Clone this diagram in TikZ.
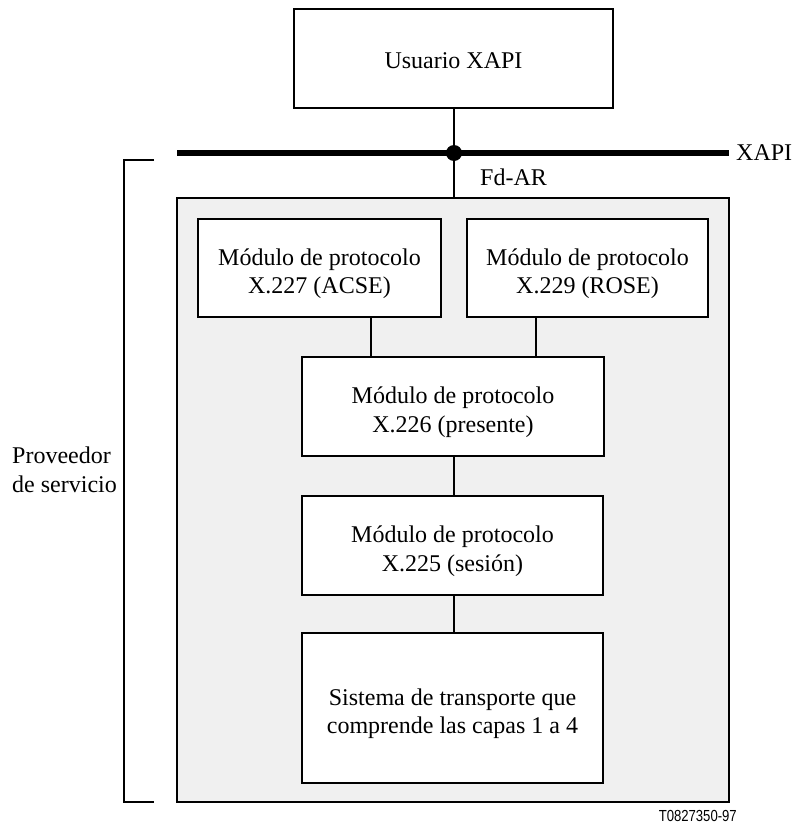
\documentclass[tikz,border=0pt]{standalone}
\usepackage{fontspec}
\setmainfont{Liberation Serif}
\newfontfamily\labelsans{Liberation Sans}
% centred lines of a box, set a little below the box centre
\newcommand\boxtext[2][12pt]{\raisebox{-#1}[0pt][0pt]{\begin{tabular}{@{}c@{}}#2\end{tabular}}}
\begin{document}
\begin{tikzpicture}[x=1pt,y=-1pt,
  every node/.style={font=\fontsize{24}{28.5}\selectfont},
  module/.style={draw=black,line width=1.2pt,fill=white,inner sep=0pt},
  link/.style={line width=2pt},
]
\useasboundingbox (0,0) rectangle (793,827);

% service provider area
\node[draw=black,line width=1.2pt,fill=black!6,minimum width=552pt,minimum height=604pt,inner sep=0pt] (area) at (453,500) {};

% XAPI interface line
\coordinate (xl) at (177,153);
\coordinate (xr) at (729,153);
\coordinate (tap) at (454,153);
\draw[line width=6pt] (xl) -- (xr);
\node[anchor=west,inner sep=0pt] (xapi) at ([xshift=7pt]xr) {XAPI};

% user on top
\node[module,minimum width=319pt,minimum height=99pt] (user) at (453.5,58.5) {\boxtext[11pt]{Usuario XAPI}};

% protocol modules
\node[module,minimum width=243pt,minimum height=98pt] (acse) at (319.5,268) {\boxtext{Módulo de protocolo\\X.227 (ACSE)}};
\node[module,minimum width=241pt,minimum height=98pt] (rose) at (587.5,268) {\boxtext{Módulo de protocolo\\X.229 (ROSE)}};
\node[module,minimum width=302pt,minimum height=99pt] (pres) at (453,406.5) {\boxtext{Módulo de protocolo\\X.226 (presente)}};
\node[module,minimum width=301pt,minimum height=99pt] (ses) at (452.5,545.5) {\boxtext{Módulo de protocolo\\X.225 (sesión)}};
\node[module,minimum width=301pt,minimum height=150pt] (trans) at (452.5,708) {\boxtext{Sistema de transporte que\\comprende las capas 1 a 4}};

% connections
\draw[link] (user.south -| tap) -- (tap) -- (tap |- area.north);
\fill (tap) circle (8pt);
\draw[link] ([xshift=51.5pt]acse.south) -- ([xshift=51.5pt]acse.south |- pres.north);
\draw[link] ([xshift=-51.5pt]rose.south) -- ([xshift=-51.5pt]rose.south |- pres.north);
\draw[link] (pres.south -| tap) -- (ses.north -| tap);
\draw[link] (ses.south -| tap) -- (trans.north -| tap);

\node[anchor=base west,inner sep=0pt] (fdar) at (480,185) {Fd-AR};

% bracket for the service provider
\coordinate (bt) at (154,160);
\coordinate (bb) at (154,802);
\draw[line width=1.5pt] (bt) -| (124,802) -- (bb);
\node[anchor=west,align=left,inner sep=0pt] (prov) at (12,470) {Proveedor\\de servicio};

\node[anchor=east,inner sep=0pt,font=\labelsans\fontsize{16}{18}\selectfont] (code) at (737,816) {\scalebox{0.82}[1]{T0827350-97}};
\end{tikzpicture}
\end{document}
